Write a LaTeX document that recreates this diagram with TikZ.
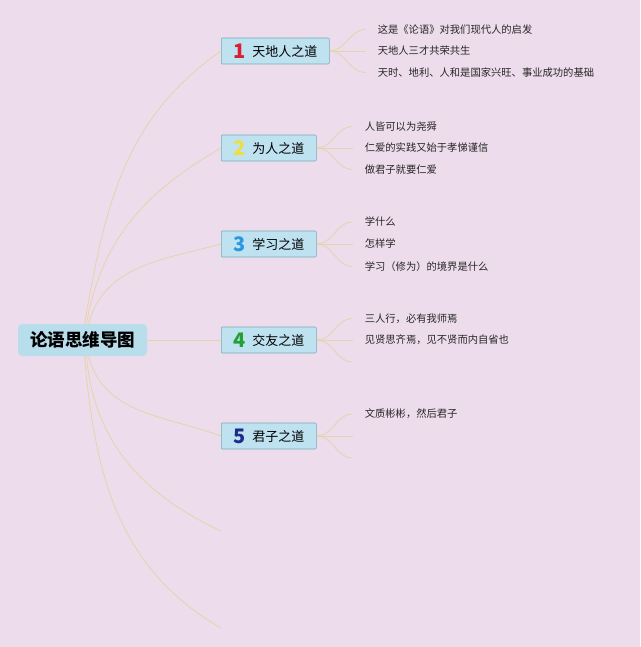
\documentclass[tikz,border=0pt]{standalone}
\usepackage{fontspec}
\setmainfont{Noto Sans CJK SC}
\usepackage{xcolor}
\usetikzlibrary{positioning}
\definecolor{bgpink}{RGB}{237,221,236}
\definecolor{rootblue}{RGB}{184,222,236}
\definecolor{boxblue}{RGB}{190,226,240}
\definecolor{boxline}{RGB}{118,172,180}
\definecolor{twigcol}{RGB}{230,210,172}
\definecolor{numred}{RGB}{218,30,52}
\definecolor{numyellow}{RGB}{240,222,64}
\definecolor{numblue}{RGB}{42,152,224}
\definecolor{numgreen}{RGB}{36,160,52}
\definecolor{numnavy}{RGB}{30,42,140}
\newcommand{\topicnum}[2]{\makebox[19pt][l]{\fontsize{20}{20}\selectfont\bfseries\color{#1}#2}}
\newcommand{\topictext}[1]{\raisebox{1.5pt}{#1}}

\begin{document}
\begin{tikzpicture}[
      x=1pt, y=1pt,
      rootbox/.style={rounded corners=4pt, fill=rootblue, minimum width=129pt, minimum height=32pt,
        inner sep=0pt, font=\fontsize{17.5}{18}\selectfont\bfseries},
      topic/.style={draw=boxline, line width=0.6pt, fill=boxblue, rounded corners=1pt, minimum height=26pt,
        inner xsep=12pt, inner ysep=0pt, anchor=west, font=\fontsize{13}{14}\selectfont},
      leaf/.style={inner sep=0pt, anchor=west, text=black!85, font=\fontsize{10.3}{11}\selectfont},
      limb/.style={draw=twigcol, line width=0.8pt},
      twig/.style={draw=twigcol, line width=0.8pt}
    ]
      \fill[bgpink] (0,0) rectangle (640,-647);
      \useasboundingbox (0,0) rectangle (640,-647);

      \node[rootbox] (root) at (82.5,-340) {论语思维导图};

      \node[topic] (b1) at (221,-51) {\topicnum{numred}{1}\topictext{天地人之道}};
      \node[topic] (b2) at (221,-148) {\topicnum{numyellow}{2}\topictext{为人之道}};
      \node[topic] (b3) at (221,-244) {\topicnum{numblue}{3}\topictext{学习之道}};
      \node[topic] (b4) at (221,-340) {\topicnum{numgreen}{4}\topictext{交友之道}};
      \node[topic] (b5) at (221,-436) {\topicnum{numnavy}{5}\topictext{君子之道}};
      \coordinate (b6) at (221,-531);
      \coordinate (b7) at (221,-628);

      % leaves of topic 1
      \node[leaf, right=48pt of b1] (l12) {天地人三才共荣共生};
      \node[leaf] (l11) at ([yshift=21.5pt]l12.west) {这是《论语》对我们现代人的启发};
      \node[leaf] (l13) at ([yshift=-21.5pt]l12.west) {天时、地利、人和是国家兴旺、事业成功的基础};

      % leaves of topic 2
      \node[leaf, right=48pt of b2] (l22) {仁爱的实践又始于孝悌谨信};
      \node[leaf] (l21) at ([yshift=21.5pt]l22.west) {人皆可以为尧舜};
      \node[leaf] (l23) at ([yshift=-21.5pt]l22.west) {做君子就要仁爱};

      % leaves of topic 3
      \node[leaf, right=48pt of b3] (l32) {怎样学};
      \node[leaf] (l31) at ([yshift=22pt]l32.west) {学什么};
      \node[leaf] (l33) at ([yshift=-22.5pt]l32.west) {学习（修为）的境界是什么};

      % leaves of topic 4
      \node[leaf, right=48pt of b4] (l42) {见贤思齐焉，见不贤而内自省也};
      \node[leaf] (l41) at ([yshift=21.5pt]l42.west) {三人行，必有我师焉};
      \coordinate (e43) at ([xshift=-12pt,yshift=-22pt]l42.west);

      % leaves of topic 5
      \coordinate (e52) at ([xshift=36pt]b5.east);
      \node[leaf] (l51) at ([xshift=12pt,yshift=22pt]e52) {文质彬彬，然后君子};
      \coordinate (e53) at ([yshift=-22pt]e52);

      % root to topics
      \draw[limb] ([xshift=2pt]root.north) to[out=80,in=215] (b1.west);
      \draw[limb] ([xshift=4pt]root.north) to[out=80,in=210] (b2.west);
      \draw[limb] ([xshift=6pt]root.north) to[out=75,in=195] (b3.west);
      \draw[limb] (root.east) -- (b4.west);
      \draw[limb] ([xshift=6pt]root.south) to[out=-75,in=160] (b5.west);
      \draw[limb] ([xshift=4pt]root.south) to[out=-85,in=155] (b6);
      \draw[limb] ([xshift=2pt]root.south) to[out=-85,in=150] (b7);

      % topics to leaves
      \draw[twig] (b1.east) to[out=0,in=180] ([xshift=-12pt]l11.west);
      \draw[twig] (b1.east) -- ([xshift=-12pt]l12.west);
      \draw[twig] (b1.east) to[out=0,in=180] ([xshift=-12pt]l13.west);
      \draw[twig] (b2.east) to[out=0,in=180] ([xshift=-12pt]l21.west);
      \draw[twig] (b2.east) -- ([xshift=-12pt]l22.west);
      \draw[twig] (b2.east) to[out=0,in=180] ([xshift=-12pt]l23.west);
      \draw[twig] (b3.east) to[out=0,in=180] ([xshift=-12pt]l31.west);
      \draw[twig] (b3.east) -- ([xshift=-12pt]l32.west);
      \draw[twig] (b3.east) to[out=0,in=180] ([xshift=-12pt]l33.west);
      \draw[twig] (b4.east) to[out=0,in=180] ([xshift=-12pt]l41.west);
      \draw[twig] (b4.east) -- ([xshift=-12pt]l42.west);
      \draw[twig] (b4.east) to[out=0,in=180] (e43);
      \draw[twig] (b5.east) to[out=0,in=180] ([xshift=-12pt]l51.west);
      \draw[twig] (b5.east) -- (e52);
      \draw[twig] (b5.east) to[out=0,in=180] (e53);
\end{tikzpicture}
\end{document}
